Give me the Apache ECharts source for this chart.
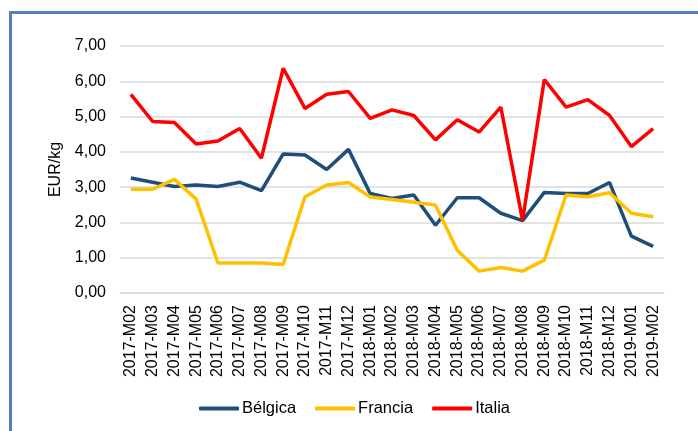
<!DOCTYPE html>
<html lang="es">
<head>
    <meta charset="UTF-8">
    <title>EUR/kg</title>
    <style>
        html, body { margin: 0; padding: 0; background: #fff; }
    </style>
</head>
<body>
    <div id="main" style="width:698px; height:431px;"></div>
    <script src="https://cdn.jsdelivr.net/npm/echarts@6/dist/echarts.min.js"></script>
    <script>
        // meses
        var meses = ['2017-M02', '2017-M03', '2017-M04', '2017-M05', '2017-M06', '2017-M07', '2017-M08',
            '2017-M09', '2017-M10', '2017-M11', '2017-M12', '2018-M01', '2018-M02', '2018-M03',
            '2018-M04', '2018-M05', '2018-M06', '2018-M07', '2018-M08', '2018-M09', '2018-M10',
            '2018-M11', '2018-M12', '2019-M01', '2019-M02'];

        var belgica = [3.26, 3.14, 3.02, 3.06, 3.02, 3.14, 2.90, 3.94, 3.91, 3.50, 4.07, 2.82, 2.68,
            2.78, 1.92, 2.70, 2.70, 2.26, 2.05, 2.85, 2.82, 2.82, 3.13, 1.61, 1.32];

        var francia = [2.94, 2.94, 3.22, 2.66, 0.85, 0.85, 0.85, 0.81, 2.73, 3.06, 3.13, 2.72, 2.65,
            2.57, 2.49, 1.21, 0.62, 0.72, 0.62, 0.93, 2.78, 2.73, 2.84, 2.26, 2.16];

        var italia = [5.63, 4.86, 4.83, 4.22, 4.31, 4.66, 3.82, 6.37, 5.23, 5.63, 5.71, 4.95, 5.19,
            5.03, 4.34, 4.91, 4.56, 5.27, 2.06, 6.05, 5.27, 5.48, 5.03, 4.15, 4.66];

        var myChart = echarts.init(document.getElementById('main'));

        var fuente = 'Liberation Sans, Arial, sans-serif';

        var serie = function (nombre, datos, color) {
            return {
                name: nombre,
                type: 'line',
                data: datos,
                symbol: 'none',
                smooth: false,
                lineStyle: { color: color, width: 3.5 },
                itemStyle: { color: color }
            };
        };

        myChart.setOption({
            animation: false,
            textStyle: { fontFamily: fuente },
            graphic: [{
                type: 'rect',
                shape: { x: 10.5, y: 12.5, width: 720, height: 460 },
                style: { fill: 'none', stroke: '#4F81BD', lineWidth: 3 },
                silent: true
            }],
            grid: { left: 120, right: 34, top: 46, bottom: 138 },
            legend: {
                bottom: 9,
                left: 194,
                itemWidth: 40,
                itemHeight: 4,
                itemGap: 19,
                icon: 'roundRect',
                textStyle: { fontSize: 16.5, color: '#000', fontFamily: fuente, padding: [0, 0, 0, -2] },
                data: ['Bélgica', 'Francia', 'Italia']
            },
            xAxis: {
                type: 'category',
                data: meses,
                boundaryGap: true,
                axisLine: { show: true, lineStyle: { color: '#D9D9D9', width: 1.5 } },
                axisTick: { show: false },
                axisLabel: {
                    rotate: 90,
                    interval: 0,
                    margin: 12,
                    fontSize: 16,
                    color: '#000',
                    fontFamily: fuente
                }
            },
            yAxis: {
                type: 'value',
                min: 0,
                max: 7,
                interval: 1,
                name: 'EUR/kg',
                nameLocation: 'middle',
                nameRotate: 90,
                nameGap: 55,
                nameTextStyle: { fontSize: 16, color: '#000', fontFamily: fuente },
                axisLine: { show: false },
                axisTick: { show: false },
                splitLine: { lineStyle: { color: '#D9D9D9', width: 1.5 } },
                axisLabel: {
                    margin: 14,
                    fontSize: 16,
                    color: '#000',
                    fontFamily: fuente,
                    formatter: function (v) { return v.toFixed(2).replace('.', ','); }
                }
            },
            series: [
                serie('Bélgica', belgica, '#1F4E79'),
                serie('Francia', francia, '#FFC000'),
                serie('Italia', italia, '#FF0000')
            ]
        });
    </script>
</body>
</html>
